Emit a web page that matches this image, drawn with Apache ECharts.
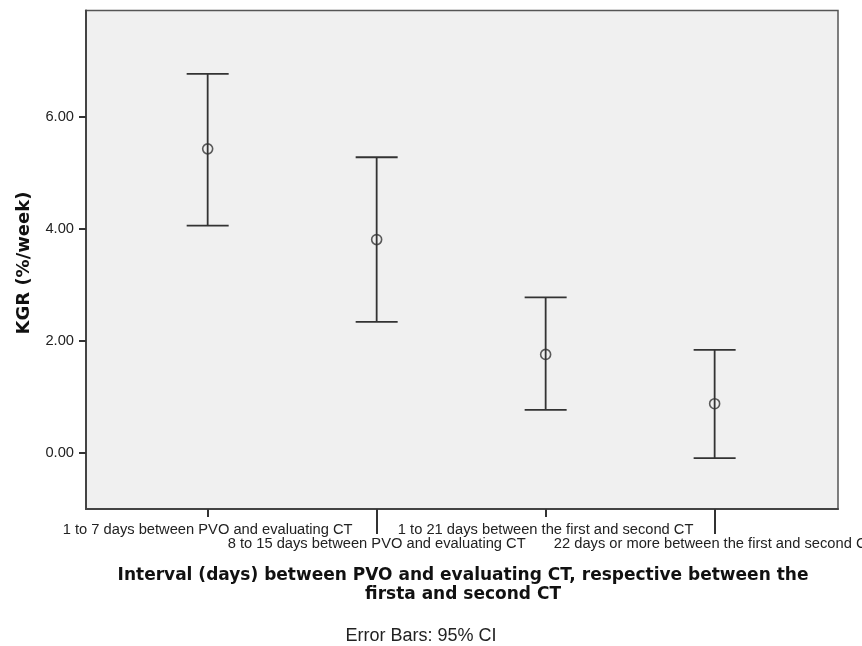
<!DOCTYPE html>
<html>
<head>
<meta charset="utf-8">
<script src="https://cdn.jsdelivr.net/npm/echarts@6/dist/echarts.min.js"></script>
<style>
html,body{margin:0;padding:0;background:#fff;}
#chart{width:862px;height:646px;}
</style>
</head>
<body>
<div id="chart"></div>
<script>
var categories = [
  "1 to 7 days between PVO and evaluating CT",
  "8 to 15 days between PVO and evaluating CT",
  "1 to 21 days between the first and second CT",
  "22 days or more between the first and second CT"
];
var means = [5.43, 3.81, 1.76, 0.88];
var lower = [4.06, 2.34, 0.77, -0.09];
var upper = [6.77, 5.28, 2.78, 1.84];
var yTicks = [0, 2, 4, 6];
var xTitle = "Interval (days) between PVO and evaluating CT, respective between the\nfirsta and second CT";
var yTitle = "KGR (%/week)";
var footnote = "Error Bars: 95% CI";

var chart = echarts.init(document.getElementById('chart'), null, {renderer: 'canvas'});

var barData = categories.map(function (c, i) { return [i, lower[i], upper[i]]; });
var meanData = categories.map(function (c, i) { return [i, means[i]]; });
var evenIdx = [], oddIdx = [];
categories.forEach(function (c, i) { (i % 2 === 0 ? evenIdx : oddIdx).push(i); });

var labelFont = {fontFamily: 'Liberation Sans, Arial, sans-serif', fontSize: 14.7, color: '#222'};

function xAxisDef(vals, tickLen, margin, showLine) {
  return {
    type: 'value', position: 'bottom', min: -0.72, max: 3.73,
    splitLine: {show: false},
    axisLine: {show: showLine, onZero: false, lineStyle: {color: '#444', width: 2}},
    axisTick: {show: true, customValues: vals, length: tickLen, lineStyle: {color: '#333', width: 2}},
    axisLabel: Object.assign({
      show: true, customValues: vals, margin: margin, hideOverlap: false,
      formatter: function (v) { return categories[Math.round(v)]; }
    }, labelFont)
  };
}

var option = {
  backgroundColor: '#fff',
  animation: false,
  grid: {
    left: 86, right: 24, top: 10.5, bottom: 137,
    outerBoundsMode: 'none', containLabel: false,
    show: true, backgroundColor: '#f0f0f0', borderColor: '#555', borderWidth: 1.5
  },
  xAxis: [
    xAxisDef(evenIdx, 8, 13, true),
    xAxisDef(oddIdx, 25, 27, false)
  ],
  yAxis: {
    type: 'value', min: -1, max: 7.9,
    splitLine: {show: false},
    axisLine: {show: true, onZero: false, lineStyle: {color: '#444', width: 2}},
    axisTick: {show: true, customValues: yTicks, length: 7, lineStyle: {color: '#333', width: 2}},
    axisLabel: Object.assign({
      show: true, customValues: yTicks, margin: 12,
      formatter: function (v) { return v.toFixed(2); }
    }, labelFont)
  },
  graphic: [
    {
      type: 'text', x: 463, y: 566,
      style: {
        text: xTitle, textAlign: 'center', textVerticalAlign: 'top',
        font: 'bold 17px "DejaVu Sans", sans-serif', lineHeight: 19, fill: '#111'
      }
    },
    {
      type: 'text', x: 421, y: 636,
      style: {
        text: footnote, textAlign: 'center', textVerticalAlign: 'middle',
        font: '18px "Liberation Sans", Arial, sans-serif', fill: '#222'
      }
    },
    {
      type: 'text', x: 24, y: 263, rotation: Math.PI / 2,
      style: {
        text: yTitle, textAlign: 'center', textVerticalAlign: 'middle',
        font: 'bold 18px "DejaVu Sans", sans-serif', fill: '#111'
      }
    }
  ],
  series: [
    {
      type: 'custom',
      xAxisIndex: 0,
      data: barData,
      renderItem: function (params, api) {
        var x = api.value(0);
        var lo = api.coord([x, api.value(1)]);
        var hi = api.coord([x, api.value(2)]);
        var hw = 21;
        var st = {stroke: '#333', lineWidth: 1.8};
        return {
          type: 'group',
          children: [
            {type: 'line', shape: {x1: lo[0], y1: lo[1], x2: hi[0], y2: hi[1]}, style: st},
            {type: 'line', shape: {x1: hi[0] - hw, y1: hi[1], x2: hi[0] + hw, y2: hi[1]}, style: st},
            {type: 'line', shape: {x1: lo[0] - hw, y1: lo[1], x2: lo[0] + hw, y2: lo[1]}, style: st}
          ]
        };
      },
      z: 2
    },
    {
      type: 'scatter',
      xAxisIndex: 0,
      data: meanData,
      symbol: 'circle',
      symbolSize: 10,
      itemStyle: {color: 'rgba(0,0,0,0)', borderColor: '#333', borderWidth: 1.6},
      z: 3
    }
  ]
};
chart.setOption(option);
</script>
</body>
</html>
